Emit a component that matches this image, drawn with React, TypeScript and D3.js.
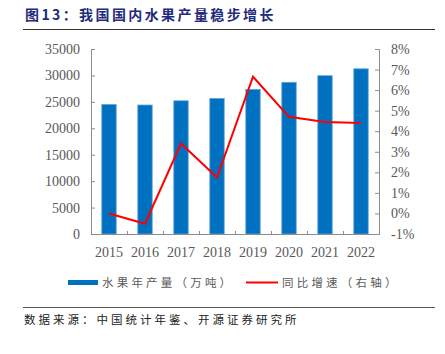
import React, { useRef, useEffect } from 'react';
import * as d3 from 'd3';

const years = ['2015', '2016', '2017', '2018', '2019', '2020', '2021', '2022'];
const output = [24500, 24400, 25200, 25650, 27350, 28700, 29950, 31250];
const growth = [0.0, -0.5, 3.4, 1.75, 6.65, 4.7, 4.45, 4.4];
const leftTicks = [0, 5000, 10000, 15000, 20000, 25000, 30000, 35000];
const rightTicks = [-1, 0, 1, 2, 3, 4, 5, 6, 7, 8];

const title = '图13：我国国内水果产量稳步增长';
const barLabel = '水果年产量（万吨）';
const lineLabel = '同比增速（右轴）';
const source = '数据来源：中国统计年鉴、开源证券研究所';

const width = 445;
const height = 354;
const plot = { left: 91, right: 379, top: 49, bottom: 234 };
const axisColor = '#8c8c8c';
const labelColor = '#595959';
const serif = '"Liberation Serif", "Times New Roman", serif';
const cjk = '"Noto Sans CJK SC", sans-serif';

const App: React.FC = () => {
  const svgRef = useRef<SVGSVGElement>(null);

  useEffect(() => {
    const svg = d3.select(svgRef.current);
    svg.selectAll('*').remove();

    svg.append('rect').attr('width', width).attr('height', height).attr('fill', '#ffffff');

    // Title and rules
    svg
      .append('text')
      .attr('x', 25)
      .attr('y', 20)
      .attr('fill', '#1f2b7b')
      .style('font-family', cjk)
      .style('font-size', '14px')
      .style('font-weight', 'bold')
      .style('letter-spacing', '2.4px')
      .text(title);
    svg.append('line').attr('x1', 23).attr('x2', 435).attr('y1', 29.5).attr('y2', 29.5).attr('stroke', '#333').attr('stroke-width', 1.2);
    svg.append('line').attr('x1', 23).attr('x2', 435).attr('y1', 307.5).attr('y2', 307.5).attr('stroke', '#555').attr('stroke-width', 1);

    const x = d3.scaleBand<string>().domain(years).range([plot.left, plot.right]).paddingInner(0.6).paddingOuter(0.3);
    const yL = d3.scaleLinear().domain([0, 35000]).range([plot.bottom, plot.top]);
    const yR = d3.scaleLinear().domain([-1, 8]).range([plot.bottom, plot.top]);

    // Bars
    svg
      .selectAll('.bar')
      .data(output)
      .enter()
      .append('rect')
      .attr('class', 'bar')
      .attr('x', (_, i) => x(years[i])!)
      .attr('y', d => yL(d))
      .attr('width', x.bandwidth())
      .attr('height', d => plot.bottom - yL(d))
      .attr('fill', '#0070c0')
      .attr('stroke', '#5fa3dc')
      .attr('stroke-width', 0.8);

    // Left axis
    const left = svg.append('g').attr('transform', `translate(${plot.left},0)`).call(
      d3.axisLeft(yL).tickValues(leftTicks).tickSizeInner(-4).tickSizeOuter(-4).tickPadding(11).tickFormat(d3.format('d'))
    );
    // Right axis
    const right = svg.append('g').attr('transform', `translate(${plot.right},0)`).call(
      d3.axisRight(yR).tickValues(rightTicks).tickSizeInner(-4).tickSizeOuter(-4).tickPadding(12).tickFormat(d => `${d}%`)
    );
    // Bottom axis, ticks between categories
    const bx = d3.scaleLinear().domain([0, years.length]).range([plot.left, plot.right]);
    const bottom = svg.append('g').attr('transform', `translate(0,${plot.bottom})`).call(
      d3.axisBottom(bx).tickValues(d3.range(1, years.length)).tickSizeInner(-3).tickSizeOuter(0).tickFormat(() => '')
    );
    [left, right, bottom].forEach(g => {
      g.select('.domain').attr('stroke', axisColor);
      g.selectAll('.tick line').attr('stroke', axisColor);
      g.selectAll('text').attr('fill', labelColor).style('font-family', serif).style('font-size', '14px');
    });

    svg
      .selectAll('.xlabel')
      .data(years)
      .enter()
      .append('text')
      .attr('class', 'xlabel')
      .attr('x', d => x(d)! + x.bandwidth() / 2)
      .attr('y', 257)
      .attr('text-anchor', 'middle')
      .attr('fill', labelColor)
      .style('font-family', serif)
      .style('font-size', '14px')
      .text(d => d);

    // Growth line
    const line = d3
      .line<number>()
      .x((_, i) => x(years[i])! + x.bandwidth() / 2)
      .y(d => yR(d));
    svg.append('path').datum(growth).attr('d', line).attr('fill', 'none').attr('stroke', '#ff0000').attr('stroke-width', 2);

    // Legend
    svg.append('rect').attr('x', 68).attr('y', 280).attr('width', 30).attr('height', 5).attr('fill', '#0070c0');
    svg
      .append('text')
      .attr('x', 102)
      .attr('y', 287)
      .attr('fill', labelColor)
      .style('font-family', cjk)
      .style('font-size', '11.5px')
      .style('letter-spacing', '3.2px')
      .text(barLabel);
    svg.append('line').attr('x1', 246).attr('x2', 278).attr('y1', 282.5).attr('y2', 282.5).attr('stroke', '#ff0000').attr('stroke-width', 2);
    svg
      .append('text')
      .attr('x', 282)
      .attr('y', 287)
      .attr('fill', labelColor)
      .style('font-family', cjk)
      .style('font-size', '11.5px')
      .style('letter-spacing', '3.2px')
      .text(lineLabel);

    // Source
    svg
      .append('text')
      .attr('x', 24)
      .attr('y', 324)
      .attr('fill', '#222')
      .style('font-family', cjk)
      .style('font-size', '11.5px')
      .style('letter-spacing', '3px')
      .text(source);
  }, []);

  return (
    <div style={{ position: 'absolute', left: 0, top: 0 }}>
      <svg ref={svgRef} width={width} height={height} />
    </div>
  );
};

export default App;
